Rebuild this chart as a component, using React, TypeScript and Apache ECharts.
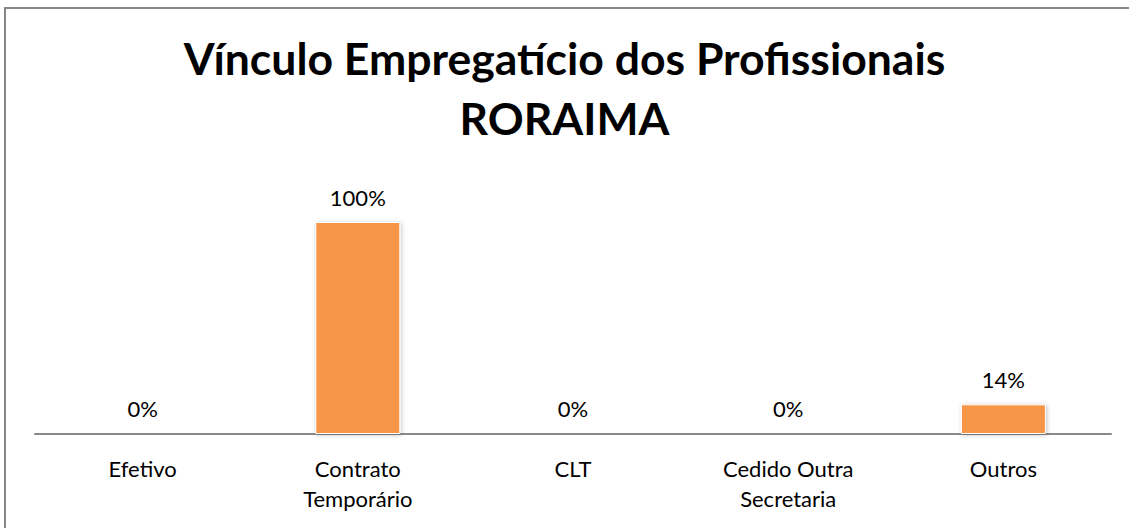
import React, { useEffect, useRef } from "react";
import * as echarts from "echarts";

const categories = ["Efetivo", "Contrato\nTemporário", "CLT", "Cedido Outra\nSecretaria", "Outros"];
const values = [0, 100, 0, 0, 14];
const titleLines = ["Vínculo Empregatício dos Profissionais", "RORAIMA"];

export default function App() {
  const ref = useRef<HTMLDivElement>(null);
  useEffect(() => {
    if (!ref.current) return;
    document.body.style.margin = "0";
    document.documentElement.style.overflow = "hidden";
    const chart = echarts.init(ref.current, null, { renderer: "svg" });
    chart.setOption({
      animation: false,
      backgroundColor: "#ffffff",
      title: {
        text: titleLines.join("\n"),
        left: "center",
        top: 22,
        textStyle: {
          fontFamily: "Lato",
          fontWeight: "bold",
          fontSize: 44.5,
          lineHeight: 60,
          color: "#000000",
        },
      },
      graphic: [
        {
          type: "polyline",
          shape: { points: [[5, 528], [5, 8], [1129, 8]] },
          style: { fill: "none", stroke: "#878787", lineWidth: 2 },
          silent: true,
        },
      ],
      grid: { left: 35, right: 18, top: 222, bottom: 94 },
      xAxis: {
        type: "category",
        data: categories,
        axisLine: { lineStyle: { color: "#898989", width: 2 } },
        axisTick: { show: false },
        axisLabel: {
          color: "#000000",
          fontFamily: "Lato",
          fontSize: 22,
          lineHeight: 30,
          margin: 19,
          interval: 0,
        },
      },
      yAxis: {
        type: "value",
        min: 0,
        max: 100,
        show: false,
        splitLine: { show: false },
      },
      series: [
        {
          type: "bar",
          data: values,
          barWidth: 85,
          itemStyle: {
            color: "#F79646",
            borderColor: "#ffffff",
            borderWidth: 1,
            shadowBlur: 4,
            shadowColor: "rgba(0,0,0,0.25)",
            shadowOffsetX: 1,
            shadowOffsetY: 1,
          },
          label: {
            show: true,
            position: "top",
            distance: 14,
            formatter: "{c}%",
            color: "#000000",
            fontFamily: "Lato",
            fontSize: 22,
          },
        },
      ],
    });
    return () => chart.dispose();
  }, []);
  return (
    <div
      ref={ref}
      style={{ position: "absolute", left: 0, top: 0, width: 1129, height: 528 }}
    />
  );
}
